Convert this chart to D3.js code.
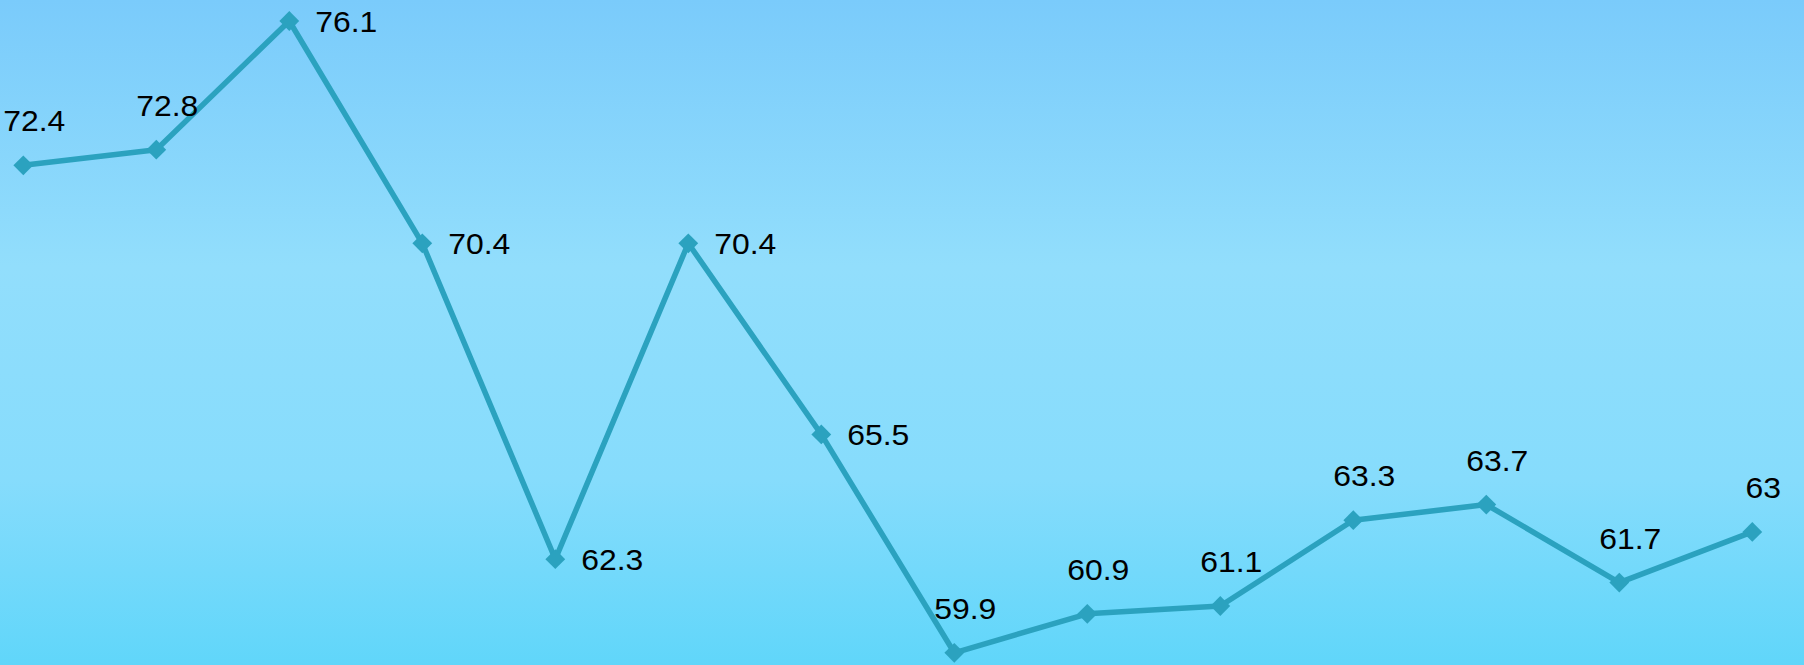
<!DOCTYPE html>
<html>
<head>
<meta charset="utf-8">
<script src="https://cdn.jsdelivr.net/npm/d3@7"></script>
<style>
  html, body { margin: 0; padding: 0; overflow: hidden; }
  svg { display: block; }
  text { font-family: "Liberation Sans", Arial, sans-serif; }
</style>
</head>
<body>
<svg id="chart" width="1804" height="665"></svg>
<script>
// ---- data ----
const categories = ["1", "2", "3", "4", "5", "6", "7", "8", "9", "10", "11", "12", "13", "14"];
const values = [72.4, 72.8, 76.1, 70.4, 62.3, 70.4, 65.5, 59.9, 60.9, 61.1, 63.3, 63.7, 61.7, 63];
const labelPlacement = ["top", "top", "right", "right", "right", "right", "right",
                        "top", "top", "top", "top", "top", "top", "top"];

// ---- layout ----
const W = 1804, H = 665;
const svg = d3.select("#chart");

const defs = svg.append("defs");
const grad = defs.append("linearGradient")
  .attr("id", "bg").attr("x1", 0).attr("y1", 0).attr("x2", 0).attr("y2", 1);
[[0, "#7acbfb"], [0.4, "#92defc"], [0.72, "#86dcfc"], [1, "#60d6fa"]].forEach(([o, c]) =>
  grad.append("stop").attr("offset", o).attr("stop-color", c));

svg.append("rect").attr("width", W).attr("height", H).attr("fill", "url(#bg)");

const x = d3.scalePoint().domain(categories).range([23.3, 1752.3]);
const y = d3.scaleLinear().domain([60, 76]).range([648.9, 24.9]);

const data = categories.map((c, i) => ({ c, v: values[i], p: labelPlacement[i] }));

const lineColor = "#2ba2bf";

svg.append("path")
  .datum(data)
  .attr("fill", "none")
  .attr("stroke", lineColor)
  .attr("stroke-width", 5.5)
  .attr("stroke-linejoin", "round")
  .attr("d", d3.line().x(d => x(d.c)).y(d => y(d.v)));

svg.selectAll(".marker")
  .data(data)
  .enter().append("path")
  .attr("class", "marker")
  .attr("transform", d => `translate(${x(d.c)},${y(d.v)})`)
  .attr("d", d3.symbol().type(d3.symbolDiamond2).size(250))
  .attr("fill", lineColor);

svg.selectAll(".lbl")
  .data(data)
  .enter().append("text")
  .attr("class", "lbl")
  .attr("transform", d => {
    const tx = d.p === "right" ? x(d.c) + 26 : x(d.c) + 11;
    const ty = d.p === "right" ? y(d.v) + 11 : y(d.v) - 34;
    return `translate(${tx},${ty}) scale(1.1,1)`;
  })
  .attr("text-anchor", d => d.p === "right" ? "start" : "middle")
  .attr("font-size", 29)
  .attr("fill", "#000")
  .text(d => d.v);
</script>
</body>
</html>
